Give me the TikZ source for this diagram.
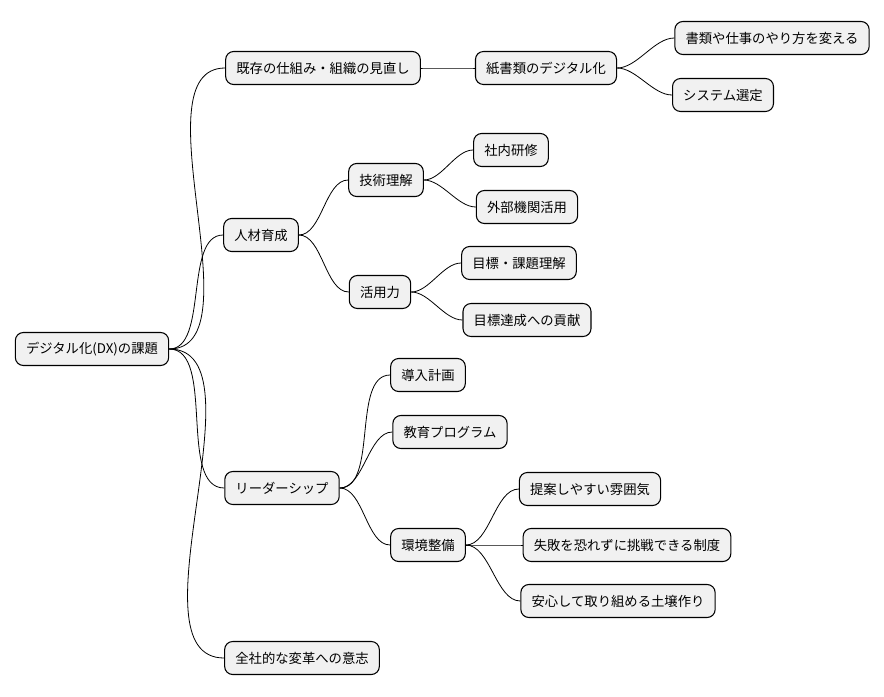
\documentclass[tikz,border=0pt]{standalone}
\usepackage{fontspec}
\setmainfont{Noto Sans CJK JP}
\begin{document}
\begin{tikzpicture}[x=0.75pt,y=-0.75pt,
  n/.style={draw=black,line width=0.8pt,fill={rgb,255:red,241;green,241;blue,241},rounded corners=6pt,
    font=\fontsize{10}{12}\selectfont,inner xsep=8pt,minimum height=24.75pt,anchor=center},
  c/.style={line width=0.6pt,out=0,in=180,looseness=0.8}]
\useasboundingbox (0,0) rectangle (884,696);
\node[n] (r) at (92,349) {デジタル化(DX)の課題};
\node[n] (a) at (323,68) {既存の仕組み・組織の見直し};
\node[n] (a1) at (546,68) {紙書類のデジタル化};
\node[n] (a11) at (772,38) {書類や仕事のやり方を変える};
\node[n] (a12) at (723,95) {システム選定};
\node[n] (b) at (261,235) {人材育成};
\node[n] (b1) at (386,180) {技術理解};
\node[n] (b11) at (511,150) {社内研修};
\node[n] (b12) at (527,207) {外部機関活用};
\node[n] (b2) at (380,292) {活用力};
\node[n] (b21) at (519,263) {目標・課題理解};
\node[n] (b22) at (527,320) {目標達成への貢献};
\node[n] (c) at (282,488) {リーダーシップ};
\node[n] (c1) at (428,375) {導入計画};
\node[n] (c2) at (450,432) {教育プログラム};
\node[n] (c3) at (428,545) {環境整備};
\node[n] (c31) at (590,489) {提案しやすい雰囲気};
\node[n] (c32) at (627,545) {失敗を恐れずに挑戦できる制度};
\node[n] (c33) at (618,601) {安心して取り組める土壌作り};
\node[n] (d) at (302,658) {全社的な変革への意志};
\foreach \p/\q in {r/a,r/b,r/c,r/d,a/a1,a1/a11,a1/a12,b/b1,b/b2,b1/b11,b1/b12,b2/b21,b2/b22,c/c1,c/c2,c/c3,c3/c31,c3/c32,c3/c33}
  \draw[c] (\p.east) to (\q.west);
\end{tikzpicture}
\end{document}
